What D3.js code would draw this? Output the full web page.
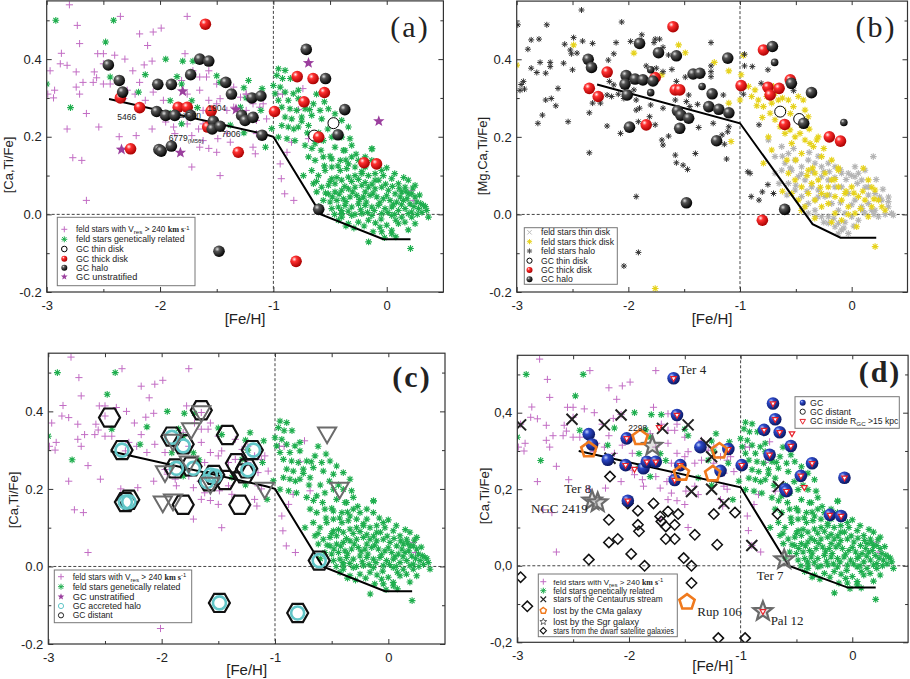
<!DOCTYPE html>
<html><head><meta charset="utf-8">
<script src="https://cdn.jsdelivr.net/npm/d3@7"></script>
<style>
body{margin:0;background:#fff}
text{font-family:"Liberation Sans",Arial,sans-serif;fill:#222}
</style>
</head><body><script>
// ---- field stars (same sample drawn in a, c, d) ----
var fieldHighV = [[-2.80,0.54],[-2.35,0.51],[-1.76,0.51],[-2.73,0.487],[-1.99,0.48],[-2.18,0.465],[-2.06,0.47],[-2.11,0.435],[-2.71,0.44],[-2.87,0.415],[-2.88,0.388],[-2.55,0.414],[-2.50,0.414],[-2.40,0.41],[-2.31,0.40],[-2.24,0.37],[-2.14,0.385],[-2.07,0.395],[-2.50,0.388],[-2.58,0.367],[-2.56,0.352],[-2.59,0.34],[-2.68,0.34],[-2.74,0.367],[-2.82,0.384],[-2.97,0.37],[-2.93,0.32],[-2.94,0.30],[-2.99,0.31],[-2.74,0.328],[-2.71,0.31],[-2.50,0.336],[-2.44,0.336],[-2.32,0.298],[-2.29,0.32],[-2.22,0.31],[-2.18,0.34],[-2.13,0.294],[-2.06,0.315],[-2.65,0.26],[-2.54,0.225],[-2.82,0.22],[-2.36,0.20],[-2.21,0.203],[-2.07,0.22],[-1.97,0.294],[-1.97,0.25],[-1.95,0.238],[-1.88,0.225],[-1.87,0.208],[-1.76,0.233],[-1.72,0.203],[-1.66,0.22],[-1.62,0.19],[-1.62,0.233],[-1.65,0.173],[-1.57,0.17],[-1.50,0.16],[-1.49,0.195],[-1.41,0.208],[-1.38,0.186],[-1.62,0.268],[-1.57,0.294],[-1.50,0.285],[-1.47,0.298],[-1.41,0.268],[-1.35,0.276],[-1.29,0.302],[-1.24,0.268],[-1.18,0.285],[-1.12,0.276],[-1.09,0.285],[-1.15,0.242],[-1.15,0.208],[-1.12,0.20],[-1.18,0.173],[-1.16,0.156],[-1.72,0.122],[-1.47,0.10],[-2.77,0.146],[-2.69,0.139],[-2.65,0.036],[-1.59,0.354],[-1.57,0.37],[-1.65,0.354],[-1.71,0.37],[-1.78,0.414],[-1.65,0.397],[-1.50,0.336],[-1.81,0.345],[-1.76,0.31],[-1.65,0.32],[-1.35,0.328],[-1.24,0.31],[-2.01,-0.16],[-0.74,0.324],[-0.96,0.31],[-0.92,0.31],[-0.84,0.186],[-0.94,0.13],[-0.93,0.092],[-0.90,0.053],[-0.82,0.036],[0.22,0.062],[-0.69,0.195],[-1.06,0.246],[0.24,0.036],[-0.78,0.27],[-0.88,0.16]];

var fieldRelated = [[-2.92,0.50],[-2.41,0.50],[-2.48,0.444],[-1.95,0.40],[-1.80,0.395],[-1.71,0.395],[-2.13,0.36],[-2.44,0.354],[-2.19,0.315],[-2.79,0.275],[-3.0,0.336],[-1.81,0.336],[-1.85,0.355],[-1.91,0.293],[-1.72,0.293],[-1.67,0.275],[-1.50,0.357],[-1.47,0.34],[-1.26,0.326],[-1.22,0.345],[-1.24,0.30],[-1.10,0.324],[-1.29,0.276],[-1.26,0.21],[-1.38,0.23],[-1.81,0.233],[-1.91,0.26],[-1.07,0.173],[-1.11,0.268],[-0.13,0.169],[0.21,-0.088],[-0.16,-0.071],
[-0.956,0.375],[-0.897,0.371],[-0.97,0.358],[-1.00,0.332],[-0.94,0.328],[-0.985,0.311],[-0.897,0.315],[-0.824,0.311],[-0.956,0.294],[-0.868,0.294],[-0.78,0.298],[-0.926,0.276],[-0.853,0.272],[-0.794,0.268],[-0.72,0.272],[-0.647,0.285],[-0.588,0.268],[-0.515,0.272],[-0.456,0.259],[-0.662,0.255],[-0.897,0.251],[-0.838,0.246],[-0.75,0.251],[-0.574,0.246],[-0.485,0.238],[-0.397,0.242],[-0.338,0.225],[-0.926,0.229],[-0.868,0.225],[-0.78,0.225],[-0.69,0.229],[-1.015,0.221],[-0.956,0.199],[-0.88,0.195],[-0.81,0.19],[-0.72,0.178],[-0.632,0.182],[-0.56,0.19],[-0.485,0.199],[-0.397,0.199],[-0.324,0.195],[-0.456,0.173],[-0.368,0.165],[-0.309,0.148],[-0.25,0.139],[-0.132,0.169],[-0.69,0.148],[-0.632,0.139],[-0.56,0.148],[-0.485,0.143],[-0.41,0.139],[-0.338,0.13],[-0.662,0.113],[-0.603,0.10],[-0.544,0.113],[-0.485,0.122],[-0.735,0.10],[-0.647,0.079],
[-0.574,0.07],[-0.515,0.075],[-0.456,0.079],[-0.397,0.088],[-0.338,0.096],[-0.28,0.10],[-0.22,0.105],[-0.162,0.10],[-0.103,0.105],[-0.03,0.10],[0.044,0.092],[0.103,0.079],[0.162,0.07],[-0.515,0.053],[-0.456,0.058],[-0.397,0.062],[-0.338,0.066],[-0.28,0.07],[-0.22,0.075],[-0.162,0.07],[-0.103,0.066],[-0.044,0.07],[0.015,0.062],[0.074,0.053],[0.132,0.058],[0.19,0.053],[0.25,0.045],[-0.56,0.036],[-0.50,0.032],[-0.44,0.036],[-0.382,0.04],[-0.324,0.045],[-0.265,0.049],[-0.206,0.045],[-0.147,0.049],[-0.088,0.045],[-0.03,0.04],[0.03,0.036],[0.088,0.032],[0.147,0.036],[0.206,0.027],[0.265,0.032],[0.324,0.023],[-0.485,0.015],[-0.426,0.019],[-0.368,0.023],[-0.309,0.019],[-0.25,0.027],[-0.19,0.023],[-0.132,0.019],[-0.074,0.023],[-0.015,0.015],[0.044,0.019],[0.103,0.01],[0.162,0.015],[0.22,0.006],[0.28,0.015],[0.353,0.01],[-0.397,0.002],[-0.309,-0.003],[-0.22,0.002],[-0.132,-0.003],[-0.044,0.002],[0.044,-0.003],[0.132,-0.007],[0.22,-0.007],[-0.426,-0.015],[-0.338,-0.024],[-0.25,-0.02],[-0.162,-0.015],[-0.059,-0.033],[0.044,-0.041],[0.103,-0.024],[0.25,-0.024],[-0.044,-0.045],[0.044,-0.05],[-0.397,-0.007],[-0.19,0.058],[-0.103,0.088],[-0.28,0.122],[-0.19,0.122],[-0.41,0.113],[-0.353,0.118],[-0.132,0.139],[-0.044,0.113],[-0.19,0.148],[-0.382,0.165],[-0.309,0.178],[0.19,0.088],[0.22,0.053],[0.368,-0.007],[-0.485,0.092],[-0.618,0.058],
[-0.54,0.055],[-0.48,0.045],[-0.42,0.052],[-0.36,0.033],[-0.30,0.058],[-0.24,0.038],[-0.18,0.032],[-0.12,0.055],[-0.06,0.03],[0.0,0.048],[0.06,0.025],[0.12,0.045],[0.18,0.04],[0.24,0.02],[0.30,0.028],[-0.50,0.085],[-0.44,0.095],[-0.37,0.072],[-0.31,0.085],[-0.25,0.09],[-0.19,0.082],[-0.13,0.078],[-0.07,0.088],[-0.01,0.078],[0.05,0.072],[0.11,0.066],[0.17,0.06],[0.23,0.068],[-0.46,0.0],[-0.40,0.01],[-0.34,0.008],[-0.28,0.0],[-0.23,0.012],[-0.17,0.005],[-0.11,0.01],[-0.05,-0.012],[0.01,0.005],[0.07,0.0],[0.13,0.025],[0.19,0.002],[0.27,0.0],[0.31,0.005],[0.34,0.02],[-0.36,-0.03],[-0.29,-0.035],[-0.2,-0.03],[-0.1,-0.022],[0.0,-0.028],[0.08,-0.015],[0.16,-0.02],[0.19,-0.04],[-0.02,-0.06],[0.08,-0.058],[-0.12,-0.045],[-0.60,0.02],[-0.62,0.085],[-0.55,0.125],[-0.5,0.15],[-0.43,0.125],[-0.36,0.14],[-0.27,0.155],[-0.22,0.11],[-0.08,0.125],[0.0,0.12],[0.07,0.105],[0.15,0.095],[0.25,0.075],[0.29,0.05],[-0.70,0.21],[-0.6,0.21],[-0.52,0.22],[-0.44,0.21],[-0.66,0.17],[-0.58,0.165],[-0.75,0.24],[-0.82,0.22],[-0.62,0.31],[-0.68,0.27],[-0.55,0.29],[-0.85,0.35],[-0.92,0.35],[-0.78,0.32]];

// model curve
var modelAC = [[-2.45,0.297],[-1.08,0.207],[-1.0,0.2],[-0.58,0.0],[-0.03,-0.064],[0.21,-0.064]];
var modelB  = [[-2.28,0.335],[-1.0,0.235],[-0.35,-0.025],[-0.10,-0.06],[0.22,-0.06]];
var modelD  = [[-2.45,0.30],[-1.0,0.205],[-0.57,0.0],[-0.04,-0.057],[0.21,-0.057]];

// ---- panel (a) clusters ----
var gcHaloA = [[-2.456,0.385],[-2.36,0.345],[-2.33,0.315],[-2.02,0.335],[-1.90,0.335],[-1.73,0.36],[-1.65,0.40],[-1.57,0.395],[-1.42,0.34],[-1.37,0.31],[-1.19,0.30],[-1.11,0.305],[-2.03,0.265],[-1.95,0.255],[-1.87,0.255],[-1.73,0.255],[-1.53,0.24],[-1.54,0.22],[-1.47,0.227],[-1.28,0.255],[-1.25,0.242],[-1.18,0.25],[-1.10,0.204],[-2.01,0.167],[-1.99,0.163],[-1.90,0.176],[-0.71,0.425],[-0.54,0.35],[-0.37,0.27],[-0.43,0.205],[-0.60,0.013],[-1.48,-0.095]];
var gcThickA = [[-1.60,0.49],[-2.35,0.30],[-2.18,0.275],[-1.84,0.276],[-1.76,0.276],[-1.55,0.266],[-1.58,0.225],[-2.26,0.169],[-1.31,0.16],[-0.99,0.265],[-0.79,0.355],[-0.65,0.35],[-0.73,0.29],[-0.55,0.314],[-0.60,0.199],[-0.20,0.133],[-0.09,0.13],[-0.80,-0.121]];
var gcThinA = [[-0.64,0.203],[-0.47,0.235]];
var gcUnstratA = [[-1.80,0.317],[-1.33,0.27],[-0.69,0.39],[-0.07,0.24],[-2.34,0.167],[-1.82,0.159]];
var gcNamesA = ["5466","1904","\u03c9Cen","6779","7006"];
var gcNamePosA = [[-2.294,0.251],[-1.50,0.275],[-1.736,0.255],[-1.77,0.196],[-1.374,0.206]];

// ---- panel (b) ----
var fieldHaloB = [[-2.42,0.527],[-2.73,0.489],[-2.99,0.489],[-2.06,0.496],[-2.90,0.426],[-2.87,0.45],[-2.80,0.452],[-2.57,0.439],[-2.49,0.456],[-2.41,0.447],[-2.32,0.441],[-2.52,0.424],[-2.46,0.416],[-2.51,0.414],[-2.87,0.377],[-2.79,0.392],[-2.82,0.366],[-2.70,0.392],[-2.70,0.381],[-2.74,0.364],[-2.58,0.39],[-2.50,0.373],[-2.94,0.343],[-2.93,0.323],[-2.63,0.325],[-2.74,0.295],[-2.69,0.299],[-2.65,0.28],[-2.77,0.256],[-2.81,0.235],[-2.54,0.239],[-2.35,0.262],[-2.32,0.287],[-2.25,0.287],[-2.35,0.159],[-2.19,0.228],[-2.18,0.398],[-2.13,0.414],[-2.11,0.443],[-1.98,0.446],[-1.88,0.463],[-1.76,0.452],[-1.72,0.452],[-1.77,0.443],[-1.69,0.431],[-1.64,0.411],[-1.84,0.383],[-1.75,0.377],[-1.69,0.368],[-1.61,0.374],[-2.17,0.343],[-2.13,0.334],[-2.09,0.31],[-2.04,0.299],[-2.15,0.304],[-2.19,0.308],[-1.95,0.321],[-1.93,0.295],[-1.90,0.274],[-1.93,0.269],[-2.07,0.209],[-1.91,0.239],[-1.80,0.282],[-1.76,0.231],[-1.81,0.252],[-1.69,0.274],[-1.70,0.192],[-1.64,0.202],[-1.69,0.179],[-1.58,0.295],[-1.57,0.343],[-1.49,0.354],[-1.46,0.308],[-1.48,0.291],[-1.45,0.278],[-1.38,0.284],[-1.58,0.153],[-1.57,0.133],[-1.51,0.127],[-1.47,0.116],[-1.40,0.157],[-1.37,0.224],[-1.26,0.383],[-1.26,0.368],[-1.26,0.355],[-1.26,0.443],[-1.24,0.235],[-1.16,0.205],[-1.11,0.213],[-1.10,0.226],[-1.14,0.181],[-1.12,0.143],[-1.15,0.308],[-1.93,0.046],[-1.91,-0.098],[-2.04,-0.133],[-0.96,0.413],[-0.96,0.383],[-0.89,0.381],[-0.93,0.11],[-0.91,0.106],[-0.90,0.046],[-0.83,0.037],[-0.80,0.058],[-0.75,0.077],[-0.70,0.054],[-0.83,0.231],[-0.81,0.338],[-0.75,0.373],[-0.52,0.319],[-0.97,0.31],[-2.96,0.335],[-2.97,0.32]];
var fieldThickB = [[-2.49,0.437],[-1.95,0.416],[-1.55,0.437],[-1.49,0.417],[-1.70,0.36],[-1.23,0.392],[-1.10,0.37],[-1.08,0.188],[-1.76,-0.191],[0.21,-0.083],[-1.0,0.295],[-1.10,0.287],[-3.0,0.385],[-0.97,0.41],[-0.99,0.36],
[-0.925,0.33],[-0.896,0.304],[-0.866,0.321],[-0.836,0.295],[-0.791,0.278],[-0.761,0.304],[-0.716,0.287],[-0.687,0.312],[-0.657,0.295],[-0.612,0.269],[-0.567,0.295],[-0.522,0.278],[-0.478,0.304],[-0.433,0.295],[-0.418,0.269],[-0.388,0.252],[-0.731,0.261],[-0.687,0.244],[-0.642,0.226],[-0.597,0.209],[-0.552,0.218],[-0.507,0.20],[-0.463,0.209],[-0.418,0.192],[-0.373,0.183],[-0.343,0.175],[-0.313,0.192],[-0.537,0.183],[-0.746,0.20],[-0.791,0.132],[-0.716,0.166],[-0.448,0.157],[-0.269,0.149],[-0.179,0.14],[-0.119,0.114],[0.104,0.119],[0.149,0.089],[0.209,0.063],[0.239,0.037],[0.299,0.011],[0.045,-0.032],[-0.567,0.106],[-0.507,0.089],[-0.448,0.071],[-0.388,0.054],[-0.328,0.037],[-0.269,0.02],[-0.209,0.071],[-0.149,0.046],[-0.09,0.037],[-0.03,0.02],[0.03,0.003],[-0.478,0.037],[-0.418,0.02],[-0.358,0.08],[-0.299,0.089],[-0.239,0.106],[-0.179,0.089],[-0.119,0.071],[-0.06,0.054],[0,0.071],[0.06,0.046],[0.119,0.037],[0.179,0.02],[-0.537,0.054],[-0.388,0.114],[-0.328,0.106],[-0.269,0.054],[-0.209,0.028],[-0.149,0.003],[-0.09,-0.015],[0.149,-0.006],
[-0.8,0.25],[-0.85,0.28],[-0.7,0.33],[-0.62,0.3],[-0.55,0.26],[-0.48,0.25],[-0.45,0.23],[-0.38,0.22],[-0.3,0.2],[-0.25,0.17],[-0.5,0.14],[-0.4,0.1],[-0.35,0.12],[-0.28,0.07],[-0.22,0.05],[-0.15,0.09],[-0.05,0.06],[0.02,0.055],[0.1,0.06],[0.18,0.07],[0.2,0.04],[0.27,0.02],[-0.58,0.14],[-0.62,0.06],[-0.45,0.01],[-0.33,-0.01],[-0.18,-0.02],[0.08,0.015],[-0.03,0.0],[-0.12,0.12]];
var fieldThinB = [[-0.746,0.192],[-0.687,0.149],[-0.627,0.175],[-0.567,0.157],[-0.507,0.14],[-0.448,0.123],[-0.388,0.14],[-0.328,0.132],[-0.269,0.123],[-0.209,0.132],[-0.149,0.123],[-0.09,0.106],[-0.03,0.106],[0.03,0.097],[0.09,0.089],[0.149,0.071],[0.209,0.054],[0.269,0.037],[0.328,0.02],[0.358,0.003],[-0.597,0.132],[-0.537,0.114],[-0.478,0.097],[-0.418,0.089],[-0.358,0.071],[-0.299,0.063],[-0.239,0.046],[-0.179,0.028],[-0.119,0.011],[-0.06,0.003],[0,-0.006],[0.06,-0.015],[0.119,0.003],[0.179,0.011],[0.239,-0.006],[-0.567,0.08],[-0.507,0.063],[-0.448,0.046],[-0.388,0.028],[-0.328,0.011],[-0.269,-0.006],[-0.209,-0.023],[-0.149,-0.032],[-0.09,-0.04],[-0.03,-0.049],[-0.119,-0.023],[0.03,0.037],[0.09,0.02],[0.149,0.028],[0.209,0.011],[-0.03,0.054],[-0.09,0.071],[-0.149,0.071],[-0.209,0.089],[-0.269,0.097],[-0.328,0.037],[-0.388,0.003],[-0.209,-0.006],[0.194,0.149],[0.328,0.033],[0.373,-0.002],[-0.687,0.106],[-0.627,0.114],[0.06,0.106],[0.119,0.114],[0.03,0.123],
[-0.55,0.12],[-0.45,0.105],[-0.35,0.11],[-0.25,0.11],[-0.15,0.095],[-0.05,0.09],[0.05,0.08],[0.15,0.05],[0.25,0.045],[-0.50,0.075],[-0.40,0.06],[-0.30,0.045],[-0.20,0.05],[-0.10,0.03],[0.0,0.025],[0.10,0.01],[0.2,0.0],[0.3,0.0],[-0.42,0.02],[-0.32,-0.005],[-0.25,-0.02],[-0.16,-0.01],[-0.06,-0.02],[0.02,-0.03],[-0.12,-0.05],[-0.07,-0.035],[-0.62,0.15],[-0.52,0.17],[-0.65,0.08],[-0.58,0.05],[0.12,0.07],[0.22,0.09],[0.28,0.065],[0.33,0.045],[-0.2,0.11],[-0.1,0.115],[0.0,0.1],[-0.38,0.16],[-0.3,0.15]];
var gcHaloB = [[-2.36,0.40],[-2.33,0.379],[-1.90,0.441],[-1.73,0.417],[-1.57,0.409],[-1.11,0.403],[-2.02,0.358],[-1.94,0.349],[-1.87,0.347],[-1.78,0.344],[-2.03,0.336],[-2.01,0.308],[-1.42,0.362],[-1.36,0.364],[-1.25,0.311],[-1.28,0.278],[-1.19,0.271],[-1.10,0.262],[-1.56,0.267],[-1.53,0.256],[-1.46,0.248],[-1.54,0.222],[-1.99,0.225],[-1.21,0.19],[-1.48,0.03],[-0.71,0.433],[-0.54,0.338],[-0.36,0.314],[-0.43,0.235],[-0.60,0.013]];
var gcHaloSmallB = [[-1.80,0.373],[-1.80,0.314],[-1.34,0.33],[-0.69,0.392],[-0.07,0.237]];
var gcThickB = [[-1.60,0.484],[-2.19,0.367],[-2.35,0.325],[-2.27,0.304],[-1.76,0.353],[-1.58,0.321],[-1.54,0.321],[-1.84,0.231],[-0.99,0.332],[-0.79,0.424],[-0.75,0.328],[-0.73,0.308],[-0.65,0.325],[-0.55,0.347],[-0.60,0.232],[-0.20,0.20],[-0.10,0.189],[-0.80,-0.015]];
var gcThinB = [[-0.64,0.265],[-0.47,0.246]];

// ---- panel (c) ----
var gcDistantC = [[-2.46,0.384],[-2.35,0.30],[-2.32,0.166],[-2.29,0.172],[-1.91,0.335],[-1.81,0.315],[-1.88,0.253],[-1.74,0.258],[-1.81,0.159],[-1.65,0.403],[-1.54,0.236],[-1.44,0.223],[-1.42,0.339],[-1.31,0.159],[-1.34,0.266],[-1.25,0.253],[-1.20,0.30],[-1.27,0.24],[-0.61,0.015],[-1.49,-0.094],[-0.80,-0.12],[-1.58,0.22]];
var gcAccretedC = [[-2.35,0.30],[-2.32,0.166],[-2.29,0.167],[-1.91,0.333],[-1.81,0.311],[-1.87,0.253],[-1.72,0.253],[-1.57,0.236],[-1.53,0.233],[-1.24,0.249],[-1.19,0.30],[-0.61,0.015],[-1.49,-0.094],[-0.80,-0.12],[-1.60,0.219]];
var gcUnstratC = [[-1.65,0.40],[-1.74,0.356],[-1.90,0.326],[-1.97,0.245],[-1.99,0.167],[-1.90,0.172],[-1.09,0.202],[-0.54,0.345],[-0.43,0.202],[-1.57,0.215],[-1.76,0.27]];

// ---- panel (d) ----
var gcD = [[-2.36,0.344],[-2.33,0.317],[-2.19,0.277],[-1.87,0.255],[-1.36,0.31],[-1.18,0.248],[-0.60,0.20]];
var gcOuterD = [[-1.60,0.49],[-1.57,0.394],[-2.02,0.333],[-2.03,0.263],[-1.84,0.272],[-1.76,0.272],[-1.54,0.263],[-1.59,0.224],[-1.11,0.305],[-0.99,0.263],[-2.01,0.17],[-0.71,0.424],[-0.69,0.383],[-0.79,0.355],[-0.65,0.349],[-0.74,0.29],[-0.55,0.313],[-0.36,0.268],[-0.46,0.235],[-0.59,0.195],[-0.07,0.23],[-0.20,0.133],[-0.10,0.13]];
var outerOnlyD = [[-1.73,0.362],[-1.95,0.253],[-0.54,0.346],[-0.43,0.205],[-0.80,-0.119]];
var centaurusD = [[-2.97,0.368],[-2.51,0.383],[-2.22,0.368],[-2.07,0.394],[-1.70,0.359],[-1.47,0.368],[-1.31,0.32],[-1.26,0.285],[-2.17,0.281],[-1.44,0.194],[-1.26,0.20],[-1.15,0.163],[-0.66,0.207],[-0.90,0.053]];
var cmaD = [[-2.36,0.303],[-1.90,0.335],[-1.19,0.30],[-1.53,0.242],[-1.25,0.24],[-1.48,-0.095]];
var sgrD = [[-1.79,0.313],[-2.33,0.170],[-2.28,0.165],[-0.61,0.016],[-0.80,-0.119]];
var dwarfD = [[-2.17,0.233],[-1.78,0.163],[-1.92,0.144],[-2.01,0.163],[-2.18,0.12],[-1.92,0.107],[-1.91,0.09],[-1.72,0.129],[-1.65,0.142],[-1.56,0.135],[-1.71,0.116],[-1.59,0.107],[-1.67,0.103],[-1.67,0.07],[-1.59,0.07],[-2.10,0.07],[-2.18,0.061],[-1.98,0.031],[-2.36,0.016],[-1.86,0.0],[-1.51,0.02],[-1.44,0.0],[-1.41,0.081],[-1.44,-0.045],[-1.24,0.135],[-1.05,0.139],[-1.21,0.055],[-0.67,0.135],[-2.97,-0.03],[-2.91,-0.106],[-1.20,-0.189],[-0.96,-0.189]];
var gcNamesD = ["Ter 4","Ter 8","NGC 2419","Ter 7","Rup 106","Pal 12"];
var gcNamePosD = [[-1.549,0.501],[-2.579,0.19],[-2.877,0.139],[-0.856,-0.038],[-1.388,-0.13],[-0.731,-0.156]];

var xMajor = [-3,-2,-1,0], xMinor = [-2.5,-1.5,-0.5];
var yMajor = [-0.2,0.0,0.2,0.4], yMinor = [-0.1,0.1,0.3,0.5];

var PINK = "#c26dc4", GREEN = "#1fae4e";

var svg = d3.select("body").append("svg").attr("width",910).attr("height",679);
var defs = svg.append("defs");
function grad(id, c0, c1, c2) {
  var g = defs.append("radialGradient").attr("id",id).attr("cx","35%").attr("cy","32%").attr("r","70%");
  g.append("stop").attr("offset","0").attr("stop-color",c0);
  g.append("stop").attr("offset","0.3").attr("stop-color",c1);
  g.append("stop").attr("offset","1").attr("stop-color",c2);
}
grad("ballBlack","#e0e0e0","#555","#000");
grad("ballRed","#fff2f2","#ff3030","#a80000");
grad("ballBlue","#c8d6ff","#2c48c8","#0a1660");

// symbol paths
function sPlus(r){ return "M"+(-r)+",0H"+r+"M0,"+(-r)+"V"+r; }
function sAst(r){ var d=r*0.72; return sPlus(r)+"M"+(-d)+","+(-d)+"L"+d+","+d+"M"+(-d)+","+d+"L"+d+","+(-d); }
function sX(r){ return "M"+(-r)+","+(-r)+"L"+r+","+r+"M"+(-r)+","+r+"L"+r+","+(-r); }
function sPoly(n, r, rot){
  return "M" + d3.range(n).map(function(i){ var a=rot+i*2*Math.PI/n; return (r*Math.cos(a)).toFixed(2)+","+(r*Math.sin(a)).toFixed(2); }).join("L") + "Z";
}
function sStar(r){
  return "M" + d3.range(10).map(function(i){ var a=-Math.PI/2+i*Math.PI/5, q=i%2?r*0.42:r; return (q*Math.cos(a)).toFixed(2)+","+(q*Math.sin(a)).toFixed(2); }).join("L") + "Z";
}

function mark(g, sc, data, d, attrs) {
  var sel = g.append("g").selectAll("path").data(data).join("path")
    .attr("transform", function(p){ return "translate("+sc.x(p[0]).toFixed(1)+","+sc.y(p[1]).toFixed(1)+")"; })
    .attr("d", d);
  for (var k in attrs) sel.attr(k, attrs[k]);
  return sel;
}
function balls(g, sc, data, r, fill, stroke, sw) {
  g.append("g").selectAll("circle").data(data).join("circle")
    .attr("cx", function(p){ return sc.x(p[0]); }).attr("cy", function(p){ return sc.y(p[1]); })
    .attr("r", r).attr("fill", fill).attr("stroke", stroke || "none").attr("stroke-width", sw || 1);
}

function fmtDot(d){ return (d<0?"-":"") + Math.abs(d).toFixed(0); }
function fmtY(d){ return (d<0?"-":"") + Math.abs(d).toFixed(1); }
function fmtYComma(d){ return fmtY(d).replace(".", ","); }

function panel(o) {
  var g = svg.append("g");
  var x = d3.scaleLinear().domain([-3,0.5]).range(o.xr);
  var y = d3.scaleLinear().domain([-0.2,0.55]).range(o.yr);
  var sc = {x:x, y:y, g:g};
  var x0=o.xr[0], x1=o.xr[1], y0=o.yr[1], y1=o.yr[0];
  var clipId = "clip"+o.id;
  defs.append("clipPath").attr("id",clipId).append("rect").attr("x",x0).attr("y",y0).attr("width",x1-x0).attr("height",y1-y0);

  // axes with inward ticks
  function ax(axis, tr, vals, size, fmt) {
    var a = g.append("g").attr("transform", tr)
      .call(axis.tickValues(vals).tickSize(-size).tickPadding(8).tickFormat(fmt));
    a.select(".domain").remove();
    a.selectAll("line").attr("stroke","#333");
    a.selectAll("text").attr("font-size","13px").attr("font-family","Liberation Sans, Arial, sans-serif").attr("fill","#222");
    return a;
  }
  var none = function(){ return ""; };
  ax(d3.axisBottom(x), "translate(0,"+y1+")", xMajor, 5, fmtDot).selectAll("text").attr("dy","0.71em").attr("y", o.xLab);
  ax(d3.axisBottom(x), "translate(0,"+y1+")", xMinor, 3, none);
  ax(d3.axisTop(x), "translate(0,"+y0+")", xMajor.concat(xMinor), 4, none);
  ax(d3.axisLeft(y), "translate("+x0+",0)", yMajor, 5, o.fmt).selectAll("text").attr("x",-5);
  ax(d3.axisLeft(y), "translate("+x0+",0)", yMinor, 3, none);
  ax(d3.axisRight(y), "translate("+x1+",0)", yMajor, 5, none);
  ax(d3.axisRight(y), "translate("+x1+",0)", yMinor, 3, none);

  var body = g.append("g").attr("clip-path","url(#"+clipId+")");
  sc.body = body;
  body.append("line").attr("x1",x(-1)).attr("x2",x(-1)).attr("y1",y0).attr("y2",y1)
    .attr("stroke","#444").attr("stroke-dasharray","3,2");
  body.append("line").attr("x1",x0).attr("x2",x1).attr("y1",y(0)).attr("y2",y(0))
    .attr("stroke","#444").attr("stroke-dasharray","3,2");

  g.append("rect").attr("x",x0).attr("y",y0).attr("width",x1-x0).attr("height",y1-y0)
    .attr("fill","none").attr("stroke","#333").attr("stroke-width",1.2);

  g.append("text").attr("x",(x0+x1)/2).attr("y",o.xTitleY).attr("text-anchor","middle")
    .attr("font-size","15px").text("[Fe/H]");
  g.append("text").attr("transform","translate("+o.yTitle[0]+","+o.yTitle[1]+") rotate(-90)")
    .attr("text-anchor","middle").attr("font-size","13px").text(o.yText);
  g.append("text").attr("x",o.tag[0]).attr("y",o.tag[1]).attr("text-anchor","middle")
    .style("font-family","Liberation Serif, serif")
    .attr("font-size","30px").attr("font-weight",o.bold?"bold":"normal").attr("letter-spacing","2px")
    .text("("+o.id+")");
  return sc;
}

function modelLine(sc, pts) {
  sc.body.append("path").datum(pts)
    .attr("d", d3.line().x(function(p){return sc.x(p[0]);}).y(function(p){return sc.y(p[1]);}))
    .attr("fill","none").attr("stroke","#000").attr("stroke-width",2);
}
function fieldStars(sc) {
  mark(sc.body, sc, fieldHighV, sPlus(3.6), {stroke:PINK, fill:"none", "stroke-width":1});
  mark(sc.body, sc, fieldRelated, sAst(3.4), {stroke:GREEN, fill:"none", "stroke-width":1.1});
}

function legend(g, box, sx, tx, rows, fs) {
  g.append("rect").attr("x",box[0]).attr("y",box[1]).attr("width",box[2]-box[0]).attr("height",box[3]-box[1])
    .attr("fill","#fff").attr("stroke","#777").attr("stroke-width",1);
  rows.forEach(function(r){
    r.sym(g, sx, r.y);
    var t = g.append("text").attr("x",tx).attr("y",r.y+3).attr("font-size",(fs||8.6)+"px");
    if (typeof r.text === "string") {
      t.text(r.text);
      if (r.w) t.attr("textLength", r.w).attr("lengthAdjust","spacingAndGlyphs");
    } else r.text(t);
  });
}
function at(g, x, y, d, attrs) {
  var p = g.append("path").attr("transform","translate("+x+","+y+")").attr("d",d);
  for (var k in attrs) p.attr(k, attrs[k]);
}
function dot(g, x, y, r, fill, stroke) {
  g.append("circle").attr("cx",x).attr("cy",y).attr("r",r).attr("fill",fill).attr("stroke",stroke||"none");
}
// "feld stars with V_res > 240 km s^-1", drawn as one text run
function vresText(t, fs) {
  t.attr("font-size", fs + "px");
  t.append("tspan").text("feld stars with V");
  t.append("tspan").attr("font-size","6.2px").attr("dy","1.8").text("res");
  t.append("tspan").attr("dy","-1.8").text("\u00a0> 240\u00a0");
  t.append("tspan").style("font-family","Liberation Serif, serif").attr("font-weight","bold").text("km s");
  t.append("tspan").attr("font-size","5.8px").attr("dy","-2.6").text("-1");
}
var legPink = function(g,x,y){ at(g,x,y,sPlus(3),{stroke:PINK,fill:"none"}); };
var legGreen = function(g,x,y){ at(g,x,y,sAst(3),{stroke:GREEN,fill:"none"}); };

// ================= (a) =================
var A = panel({id:"a", xr:[46.7,443.4], yr:[292,0.9], fmt:fmtY, xLab:9, xTitleY:324,
  yTitle:[12.5,165], yText:"[Ca,Ti/Fe]", tag:[410,37]});
fieldStars(A);
modelLine(A, modelAC);
mark(A.body, A, gcUnstratA, sStar(6), {fill:"#9b3f9e"});
balls(A.body, A, gcThinA, 5.5, "#fff", "#000");
balls(A.body, A, gcThickA, 5.8, "url(#ballRed)");
balls(A.body, A, gcHaloA, 5.8, "url(#ballBlack)");
A.body.append("g").selectAll("text").data(gcNamesA).join("text")
  .attr("x", function(d,i){ return A.x(gcNamePosA[i][0]); })
  .attr("y", function(d,i){ return A.y(gcNamePosA[i][1]); })
  .attr("dy","0.35em").attr("text-anchor","middle").attr("font-size","8.5px").attr("fill","#333")
  .each(function(d){
    var t = d3.select(this);
    t.append("tspan").text(d);
    if (d === "6779") t.append("tspan").attr("font-size","6px").attr("dy","1.5").text("(M56)");
  });
legend(A.g, [57.3,217.3,195,285.7], 64.3, 76, [
  {y:229.3, sym:legPink, text:function(t){ vresText(t, 8.2); }},
  {y:239.3, sym:legGreen, text:"feld stars genetically  related", w:108.6},
  {y:249, sym:function(g,x,y){dot(g,x,y,2.8,"#fff","#000");}, text:"GC thin disk", w:47.7},
  {y:258.7, sym:function(g,x,y){dot(g,x,y,3,"url(#ballRed)");}, text:"GC thick disk", w:52},
  {y:267.7, sym:function(g,x,y){dot(g,x,y,3,"url(#ballBlack)");}, text:"GC halo", w:32},
  {y:276.7, sym:function(g,x,y){at(g,x,y,sStar(3.5),{fill:"#9b3f9e"});}, text:"GC unstratified", w:61.3}
]);
// the field star at [Fe/H]=-2.0 lies on top of the legend box
mark(A.g, A, [fieldHighV[93]], sPlus(3.6), {stroke:PINK, fill:"none"});

// ================= (b) =================
var B = panel({id:"b", xr:[516.7,907.5], yr:[292,1.1], fmt:fmtY, xLab:9, xTitleY:324,
  yTitle:[486.5,156], yText:"[Mg,Ca,Ti/Fe]", tag:[876,37]});
mark(B.body, B, fieldThinB, sAst(3.3), {stroke:"#b4b4b4", fill:"none", "stroke-width":1.1});
mark(B.body, B, fieldThickB, sAst(3.3), {stroke:"#e6d21c", fill:"none", "stroke-width":1.1});
mark(B.body, B, fieldHaloB, sAst(3.0), {stroke:"#333", fill:"none"});
modelLine(B, modelB);
balls(B.body, B, gcThinB, 5.5, "#fff", "#000");
balls(B.body, B, gcThickB, 5.8, "url(#ballRed)");
balls(B.body, B, gcHaloB, 5.8, "url(#ballBlack)");
balls(B.body, B, gcHaloSmallB, 3.8, "url(#ballBlack)");
legend(B.g, [524.3,227.7,617.3,284.3], 529.5, 541, [
  {y:232.3, sym:function(g,x,y){at(g,x,y,sX(2.2),{stroke:"#bbb",fill:"none"});}, text:"feld stars thin disk", w:69},
  {y:241.7, sym:function(g,x,y){at(g,x,y,sAst(2.6),{stroke:"#e6d21c",fill:"none"});}, text:"feld stars thick disk", w:73},
  {y:251, sym:function(g,x,y){at(g,x,y,sAst(2.6),{stroke:"#555",fill:"none"});}, text:"feld stars halo", w:54},
  {y:260.7, sym:function(g,x,y){dot(g,x,y,2.6,"#fff","#000");}, text:"GC thin disk", w:46.7},
  {y:270, sym:function(g,x,y){dot(g,x,y,3,"url(#ballRed)");}, text:"GC thick disk", w:50.7},
  {y:279.3, sym:function(g,x,y){dot(g,x,y,3,"url(#ballBlack)");}, text:"GC halo", w:31.7}
]);

// ================= (c) =================
var C = panel({id:"c", xr:[48.3,445], yr:[644,353.2], fmt:fmtY, xLab:8.5, xTitleY:675,
  yTitle:[18,500], yText:"[Ca,Ti/Fe]", tag:[412,387], bold:true});
fieldStars(C);
modelLine(C, modelAC);
mark(C.body, C, gcDistantC, sPoly(6, 10.5, 0), {stroke:"#111", fill:"none", "stroke-width":2.2});
balls(C.body, C, gcAccretedC, 6.5, "none", "#62c6c8", 2.6);
mark(C.body, C, gcUnstratC, sPoly(3, 10.5, Math.PI/2), {stroke:"#6b6b6b", fill:"none", "stroke-width":2});
legend(C.g, [54.3,570,191.7,622.7], 61, 72.7, [
  {y:576.7, sym:legPink, text:function(t){ vresText(t, 8.2); }},
  {y:586.7, sym:legGreen, text:"feld stars genetically  related", w:107.7},
  {y:596.7, sym:function(g,x,y){at(g,x,y,sStar(3.5),{fill:"#9b3f9e"});}, text:"GC unstratified", w:61.7},
  {y:606, sym:function(g,x,y){dot(g,x,y,2.6,"none","#62c6c8");}, text:"GC accreted halo", w:68.3},
  {y:615.3, sym:function(g,x,y){dot(g,x,y,2.6,"none","#222");}, text:"GC distant", w:40}
]);

// ================= (d) =================
var D = panel({id:"d", xr:[517.3,908.1], yr:[642.3,355.3], fmt:fmtYComma, xLab:8, xTitleY:671,
  yTitle:[489,496], yText:"[Ca,Ti/Fe]", tag:[880,382], bold:true});
fieldStars(D);
modelLine(D, modelD);
mark(D.body, D, dwarfD, sPoly(4, 5.2, 0), {stroke:"#111", fill:"none", "stroke-width":1.5});
mark(D.body, D, centaurusD, sX(5.5), {stroke:"#222", fill:"none", "stroke-width":2});
balls(D.body, D, gcD, 6.3, "url(#ballBlue)");
balls(D.body, D, gcOuterD, 6.3, "url(#ballBlue)");
mark(D.body, D, sgrD, sStar(10), {stroke:"#6a6a6a", fill:"#a8a8a8", "fill-opacity":0.35, "stroke-width":2.2});
mark(D.body, D, gcOuterD.concat(outerOnlyD), sPoly(3, 3.2, Math.PI/2), {stroke:"#e8202a", fill:"#fff", "stroke-width":1.2});
mark(D.body, D, cmaD, sPoly(5, 8, -Math.PI/2), {stroke:"#f07a1e", fill:"none", "stroke-width":2.6});
D.body.append("g").selectAll("text").data(gcNamesD).join("text")
  .attr("x", function(d,i){ return D.x(gcNamePosD[i][0]); })
  .attr("y", function(d,i){ return D.y(gcNamePosD[i][1]); })
  .style("font-family","Liberation Serif, serif").attr("font-size","13px").attr("fill","#333")
  .text(function(d){ return d; });
D.body.append("text").attr("x", D.x(-2.006)).attr("y", D.y(0.351)).attr("font-size","8.5px")
  .attr("fill","#2c3fa8").text("2298");
legend(D.g, [538.3,574,677.3,636.7], 543.3, 553.3, [
  {y:581.7, sym:legPink, text:function(t){ vresText(t, 7.9); }},
  {y:590.7, sym:legGreen, text:"feld stars genetically  related", w:101},
  {y:599.3, sym:function(g,x,y){at(g,x,y,sX(2.8),{stroke:"#222",fill:"none","stroke-width":1.2});}, text:"stars of the Centaurus stream", w:109.4},
  {y:610.7, sym:function(g,x,y){at(g,x,y,sPoly(5,3.2,-Math.PI/2),{stroke:"#f07a1e",fill:"none","stroke-width":1.5});}, text:"lost by the CMa galaxy", w:88.7},
  {y:621.7, sym:function(g,x,y){at(g,x,y,sStar(3.6),{stroke:"#444",fill:"none","stroke-width":0.8});}, text:"lost by the Sgr galaxy", w:85.7},
  {y:630.7, sym:function(g,x,y){at(g,x,y,sPoly(4,3.2,0),{stroke:"#111",fill:"none","stroke-width":1.1});}, text:"stars from the dwarf satellite galaxies", w:120.7}
], 8.4);
legend(D.g, [795,396.7,899.3,428.3], 802.7, 810, [
  {y:402.7, sym:function(g,x,y){dot(g,x,y,3,"url(#ballBlue)");}, text:"GC", w:13.3},
  {y:411.7, sym:function(g,x,y){dot(g,x,y,2.6,"none","#222");}, text:"GC distant", w:41},
  {y:421, sym:function(g,x,y){at(g,x,y,sPoly(3,3.2,Math.PI/2),{stroke:"#e8202a",fill:"#fff","stroke-width":1});},
   text:function(t){
     t.attr("font-size","8.6px");
     t.append("tspan").text("GC inside R");
     t.append("tspan").attr("font-size","6.2px").attr("dy","2").text("GC");
     t.append("tspan").attr("dy","-2").text(" >15 kpc");
   }}
], 8.6);
</script></body></html>
